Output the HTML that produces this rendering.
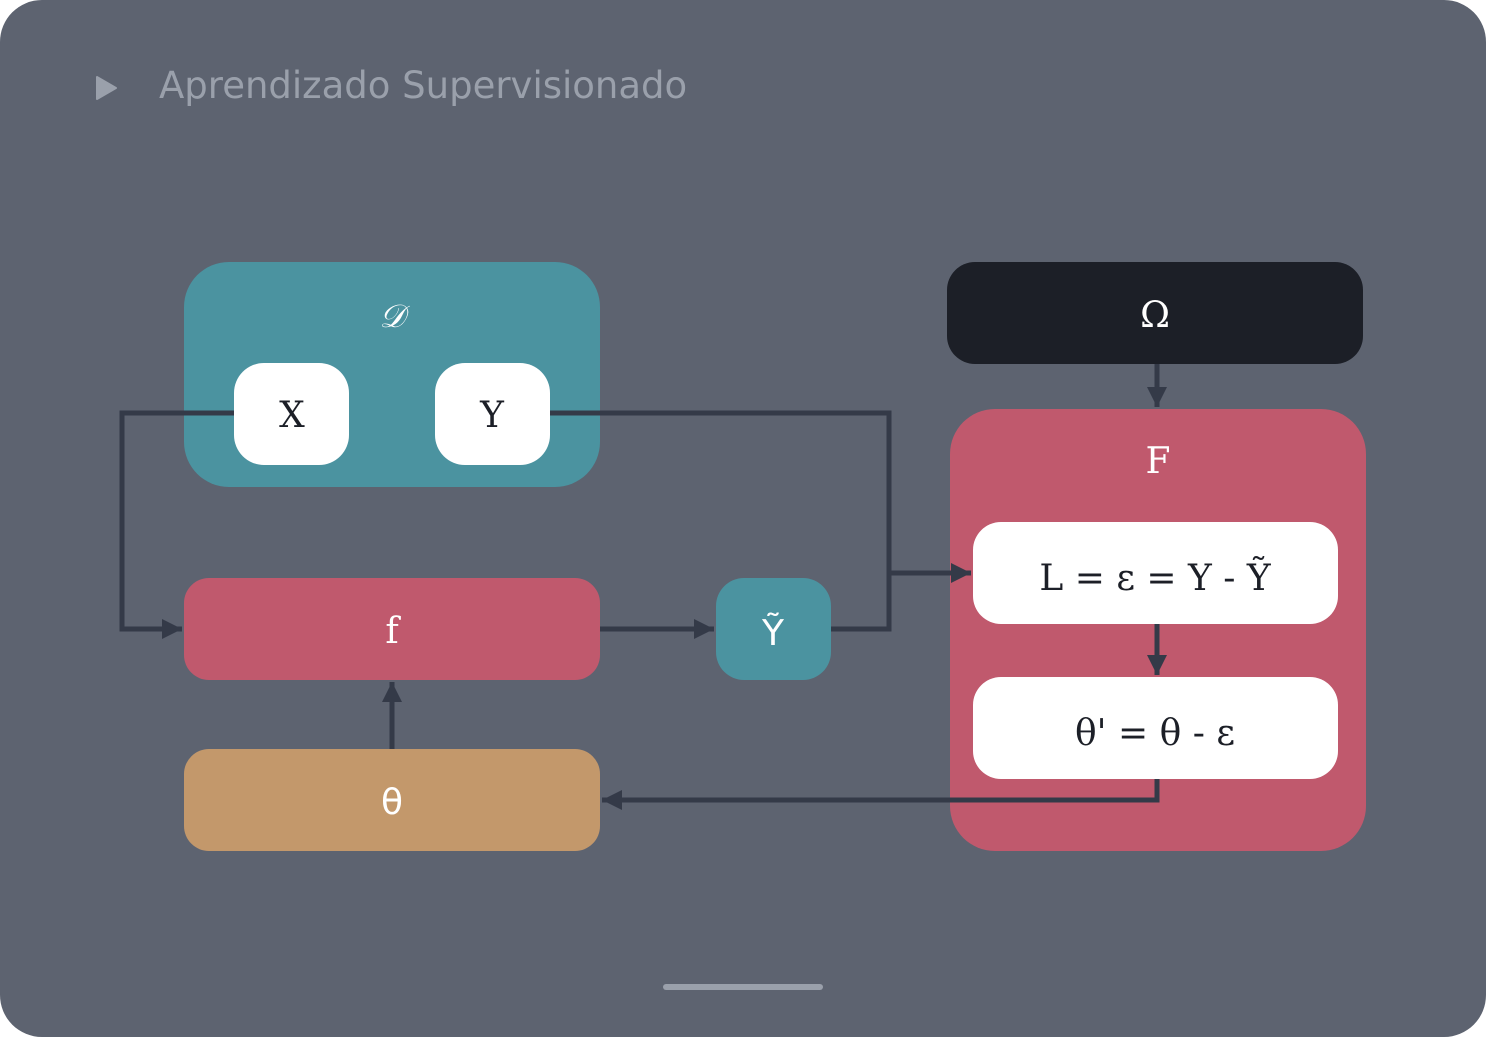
<!DOCTYPE html>
<html><head><meta charset="utf-8"><style>
html,body{margin:0;padding:0;background:#fff}
svg{display:block}
</style></head><body>
<svg width="1486" height="1037" viewBox="0 0 1486 1037" xmlns="http://www.w3.org/2000/svg">
<defs>
<marker id="a" markerWidth="4" markerHeight="4" refX="4" refY="2" orient="auto" markerUnits="strokeWidth">
<path d="M0,0 L4,2 L0,4 z" fill="#343a48"/>
</marker>
</defs>
<rect x="0" y="0" width="1486" height="1037" rx="42" fill="#5d6370"/>
<path d="M97,77 L116,88 L97,99 z" fill="#9aa0ab" stroke="#9aa0ab" stroke-width="2" stroke-linejoin="round"/>
<text x="159" y="98" font-family="DejaVu Sans, sans-serif" font-size="37" fill="#9aa0ab">Aprendizado Supervisionado</text>

<rect x="184" y="262" width="416" height="225" rx="45" fill="#4b93a0"/>
<text x="392" y="327" font-family="DejaVu Serif, serif" font-style="italic" font-size="32" fill="#fff" text-anchor="middle">𝒟</text>
<rect x="234" y="363" width="115" height="102" rx="30" fill="#fff"/>
<rect x="435" y="363" width="115" height="102" rx="30" fill="#fff"/>
<text x="292" y="427" font-family="DejaVu Serif, serif" font-size="36" fill="#1c1f27" text-anchor="middle">X</text>
<text x="492" y="427" font-family="DejaVu Serif, serif" font-size="36" fill="#1c1f27" text-anchor="middle">Y</text>

<rect x="184" y="578" width="416" height="102" rx="25" fill="#c0596d"/>
<text x="392" y="643" font-family="DejaVu Serif, serif" font-size="36" fill="#fff" text-anchor="middle">f</text>
<rect x="184" y="749" width="416" height="102" rx="25" fill="#c3986b"/>
<text x="392" y="814" font-family="DejaVu Sans, sans-serif" font-size="36" fill="#fff" text-anchor="middle">θ</text>
<rect x="716" y="578" width="115" height="102" rx="28" fill="#4b93a0"/>
<text x="773" y="645" font-family="DejaVu Sans, sans-serif" font-size="36" fill="#fff" text-anchor="middle">Ỹ</text>

<rect x="947" y="262" width="416" height="102" rx="28" fill="#1c1f27"/>
<text x="1155" y="327" font-family="DejaVu Serif, serif" font-size="36" fill="#fff" text-anchor="middle">Ω</text>

<rect x="950" y="409" width="416" height="442" rx="45" fill="#c0596d"/>
<text x="1158" y="473" font-family="DejaVu Serif, serif" font-size="36" fill="#fff" text-anchor="middle">F</text>
<rect x="973" y="522" width="365" height="102" rx="28" fill="#fff"/>
<text x="1155" y="590" font-family="DejaVu Serif, serif" font-size="36" fill="#1c1f27" text-anchor="middle">L = ε = Y - Ỹ</text>
<rect x="973" y="677" width="365" height="102" rx="28" fill="#fff"/>
<text x="1155" y="745" font-family="DejaVu Serif, serif" font-size="36" fill="#1c1f27" text-anchor="middle">θ' = θ - ε</text>

<g fill="none" stroke="#343a48" stroke-width="5">
<path d="M234,413 H122 V629 H182" marker-end="url(#a)"/>
<path d="M550,413 H889 V629 H831"/>
<path d="M889,573 H971" marker-end="url(#a)"/>
<path d="M600,629 H714" marker-end="url(#a)"/>
<path d="M392,749 V682" marker-end="url(#a)"/>
<path d="M1157,364 V407" marker-end="url(#a)"/>
<path d="M1157,624 V675" marker-end="url(#a)"/>
<path d="M1157,779 V800 H602" marker-end="url(#a)"/>
</g>

<rect x="663" y="984" width="160" height="6" rx="3" fill="#9aa0ab"/>
</svg>
</body></html>
